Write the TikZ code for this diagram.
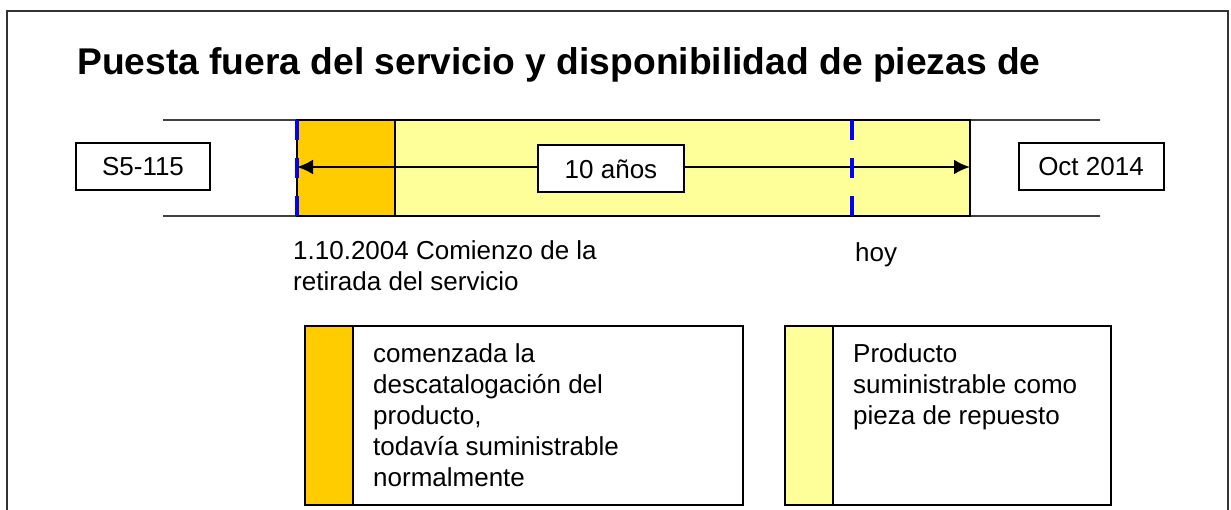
\documentclass[tikz,border=0pt]{standalone}
\usepackage{fontspec}
\setmainfont{Liberation Sans}
\usetikzlibrary{arrows.meta}
\definecolor{phaseorange}{HTML}{FFCC00}
\definecolor{phaseyellow}{HTML}{FFFF99}
\definecolor{markblue}{HTML}{0000FF}
\begin{document}
\begin{tikzpicture}[x=1pt,y=-1pt,
		labelbox/.style={draw=black,line width=2pt,fill=white,inner sep=0pt,minimum height=47pt,font=\fontsize{26}{31}\selectfont},
		markline/.style={draw=markblue,line width=4.5pt,dash pattern=on 20pt off 18pt},
		legendtext/.style={anchor=north west,inner sep=0pt,align=left,font=\fontsize{26}{31}\selectfont}]
		\useasboundingbox (0,0) rectangle (1231,510);
		% frame
		\draw[line width=2pt,black!80] (7,512) -- (7,11) -- (1228,11) -- (1228,512);
		% title
		\node[anchor=base west,inner sep=0pt,font=\fontsize{37.2}{44}\selectfont\bfseries] (title) at (77,75)
		{Puesta fuera del servicio y disponibilidad de piezas de};
		% phases
		\fill[phaseorange] (297,120) rectangle (395,216);
		\fill[phaseyellow] (395,120) rectangle (970,216);
		\draw[line width=1.5pt,black!75] (163,120) -- (1100,120) (163,216) -- (1100,216);
		\draw[line width=2pt] (297,120) rectangle (970,216) (395,120) -- (395,216);
		% ten years
		\coordinate (start) at (297,167);
		\coordinate (stop) at (970,167);
		\draw[line width=2.5pt,{Latex[length=16pt,width=15pt]}-{Latex[length=16pt,width=15pt]}] (start) -- (stop);
		\node[labelbox,minimum width=146pt] (years) at (611,169) {10 años};
		\draw[markline] (297,120) -- (297,216) (852,120) -- (852,216);
		% ends
		\node[labelbox,minimum width=134pt] (model) at (143,167) {S5-115};
		\node[labelbox,minimum width=145pt] (until) at (1091,167) {Oct 2014};
		\node[legendtext] (begin) at (293,240) {1.10.2004 Comienzo de la\\retirada del servicio};
		\node[anchor=base west,inner sep=0pt,font=\fontsize{26}{31}\selectfont] (today) at (855,262) {hoy};
		% legend
		\filldraw[fill=phaseorange,line width=2pt] (305,326) rectangle (353,505);
		\draw[line width=2pt] (353,326) rectangle (743,505);
		\node[legendtext] (oldtext) at (373,343) {comenzada la\\descatalogación del\\producto,\\todavía suministrable\\normalmente};
		\filldraw[fill=phaseyellow,line width=2pt] (785,326) rectangle (833,505);
		\draw[line width=2pt] (833,326) rectangle (1111,505);
		\node[legendtext] (sparetext) at (853,343) {Producto\\suministrable como\\pieza de repuesto};
	\end{tikzpicture}
\end{document}
